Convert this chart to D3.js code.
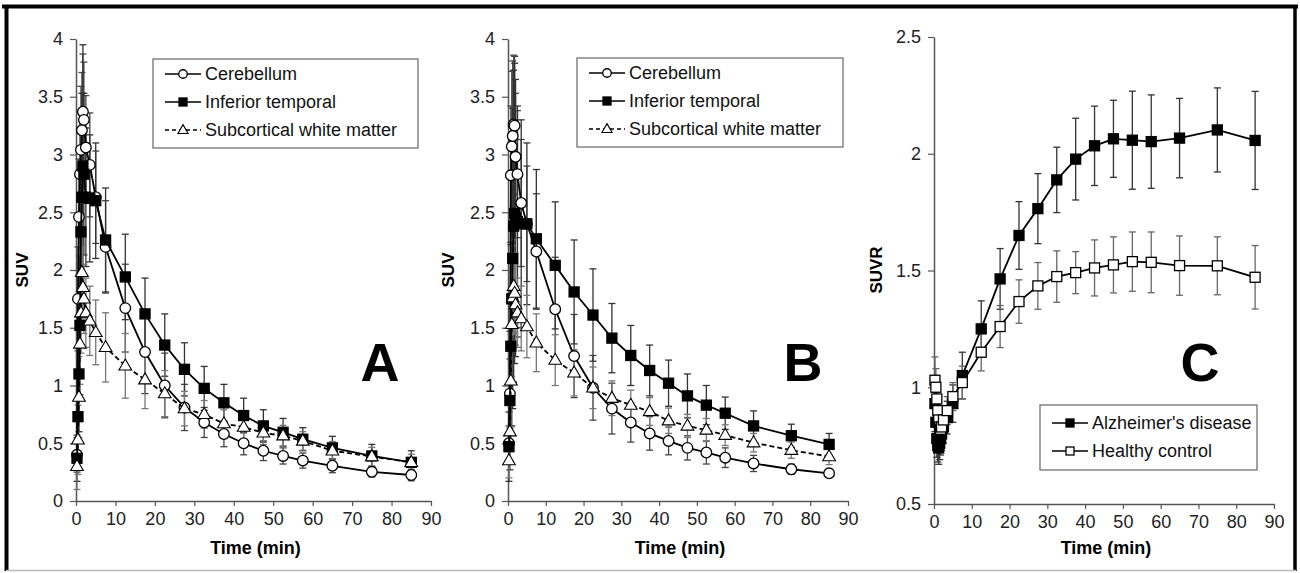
<!DOCTYPE html>
<html>
<head>
<meta charset="utf-8">
<script src="https://cdn.jsdelivr.net/npm/d3@7"></script>
<style>
  body { margin: 0; background: #fff; }
  svg { display: block; font-family: Arial, "Liberation Sans", sans-serif; }
</style>
</head>
<body>
<div id="chart"></div>
<script>
// GLOBAL CONSTANTS
const WIDTH = 1300;
const HEIGHT = 573;

// sampling times (min), shared by all panels
const TIMES = [0.25, 0.5, 0.75, 1, 1.25, 1.5, 1.75, 2, 2.5, 3.5, 5, 7.5, 12.5,
               17.5, 22.5, 27.5, 32.5, 37.5, 42.5, 47.5, 52.5, 57.5, 65, 75, 85];

const X_TICKS = [0, 10, 20, 30, 40, 50, 60, 70, 80, 90];
const SUV_TICKS = [0, 0.5, 1, 1.5, 2, 2.5, 3, 3.5, 4];
const SUVR_TICKS = [0.5, 1, 1.5, 2, 2.5];

// PANEL A - healthy control SUV
const A_CER = [0.40, 1.75, 2.46, 2.83, 3.04, 3.21, 3.37, 3.30, 3.06, 2.91, 2.63, 2.20, 1.67,
               1.29, 1.00, 0.81, 0.68, 0.58, 0.50, 0.435, 0.39, 0.35, 0.305, 0.253, 0.225];
const A_CER_SD = [0.15, 0.45, 0.5, 0.55, 0.55, 0.5, 0.5, 0.5, 0.45, 0.45, 0.4, 0.4, 0.38,
                  0.36, 0.28, 0.2, 0.13, 0.11, 0.1, 0.085, 0.07, 0.065, 0.06, 0.045, 0.05];
const A_IT = [0.37, 0.73, 1.10, 1.52, 2.33, 2.63, 2.90, 2.83, 2.63, 2.62, 2.60, 2.26, 1.94,
              1.62, 1.35, 1.14, 0.975, 0.85, 0.74, 0.65, 0.595, 0.535, 0.46, 0.39, 0.335];
const A_IT_SD = [0.2, 0.4, 0.5, 0.6, 0.7, 0.9, 1.05, 0.7, 0.6, 0.55, 0.5, 0.45, 0.37,
                 0.31, 0.27, 0.23, 0.19, 0.16, 0.15, 0.14, 0.12, 0.1, 0.1, 0.1, 0.1];
const A_WM = [0.30, 0.53, 0.90, 1.36, 1.63, 1.98, 1.85, 1.75, 1.63, 1.56, 1.46, 1.33, 1.17,
              1.05, 0.93, 0.80, 0.75, 0.67, 0.64, 0.59, 0.565, 0.52, 0.435, 0.385, 0.335];
const A_WM_SD = [0.2, 0.3, 0.35, 0.35, 0.35, 0.35, 0.35, 0.3, 0.3, 0.3, 0.28, 0.3, 0.28,
                 0.25, 0.2, 0.15, 0.12, 0.12, 0.11, 0.1, 0.09, 0.08, 0.08, 0.08, 0.07];

// PANEL B - Alzheimer's disease SUV
const B_CER = [0.50, 0.93, 2.82, 3.07, 3.16, 3.26, 3.25, 2.98, 2.83, 2.58, 2.40, 2.16, 1.66,
               1.255, 0.98, 0.80, 0.68, 0.585, 0.52, 0.46, 0.42, 0.375, 0.325, 0.275, 0.24];
const B_CER_SD = [0.15, 0.3, 0.6, 0.65, 0.65, 0.6, 0.6, 0.55, 0.55, 0.55, 0.5, 0.5, 0.45,
                  0.36, 0.28, 0.22, 0.17, 0.145, 0.12, 0.105, 0.1, 0.085, 0.07, 0.045, 0.03];
const B_IT = [0.47, 0.87, 1.34, 1.75, 2.10, 2.38, 2.49, 2.45, 2.42, 2.40, 2.40, 2.27, 2.04,
              1.81, 1.61, 1.41, 1.26, 1.13, 1.02, 0.91, 0.83, 0.76, 0.65, 0.565, 0.49];
const B_IT_SD = [0.3, 0.6, 0.9, 1.1, 1.3, 1.35, 1.3, 1.2, 1.0, 0.9, 0.7, 0.6, 0.55,
                 0.45, 0.4, 0.3, 0.26, 0.22, 0.2, 0.19, 0.17, 0.14, 0.13, 0.1, 0.095];
const B_WM = [0.35, 0.60, 1.04, 1.53, 1.76, 1.86, 1.80, 1.70, 1.63, 1.58, 1.51, 1.37, 1.22,
              1.11, 0.98, 0.89, 0.83, 0.775, 0.695, 0.65, 0.615, 0.57, 0.505, 0.44, 0.385];
const B_WM_SD = [0.15, 0.25, 0.4, 0.45, 0.45, 0.4, 0.35, 0.35, 0.3, 0.28, 0.27, 0.25, 0.22,
                 0.2, 0.18, 0.15, 0.13, 0.12, 0.11, 0.1, 0.1, 0.09, 0.08, 0.07, 0.07];

// PANEL C - SUVR
const C_AD = [0.93, 0.85, 0.78, 0.75, 0.74, 0.76, 0.78, 0.80, 0.83, 0.87, 0.93, 1.05, 1.25,
              1.464, 1.65, 1.765, 1.888, 1.977, 2.034, 2.064, 2.058, 2.052, 2.067, 2.102, 2.057];
const C_AD_SD = [0.12, 0.1, 0.08, 0.07, 0.07, 0.07, 0.07, 0.07, 0.07, 0.07, 0.08, 0.1, 0.12,
                 0.13, 0.145, 0.15, 0.14, 0.175, 0.17, 0.165, 0.21, 0.2, 0.17, 0.18, 0.21];
const C_HC = [1.03, 1.00, 0.95, 0.90, 0.86, 0.83, 0.82, 0.83, 0.86, 0.90, 0.96, 1.02, 1.15,
              1.26, 1.367, 1.434, 1.474, 1.491, 1.511, 1.524, 1.538, 1.535, 1.521, 1.52, 1.471];
const C_HC_SD = [0.1, 0.08, 0.07, 0.06, 0.06, 0.06, 0.06, 0.06, 0.06, 0.06, 0.06, 0.07, 0.08,
                 0.09, 0.093, 0.1, 0.11, 0.09, 0.12, 0.12, 0.127, 0.13, 0.127, 0.124, 0.136];

const SVG = d3.select("#chart")
              .append("svg")
                .attr("width", WIDTH)
                .attr("height", HEIGHT);

// frame round the whole figure
SVG.append("line").attr("x1", 2).attr("x2", 1298).attr("y1", 6.5).attr("y2", 6.5)
   .attr("stroke", "#000").attr("stroke-width", 4);
SVG.append("line").attr("x1", 6.5).attr("x2", 6.5).attr("y1", 5).attr("y2", 571)
   .attr("stroke", "#000").attr("stroke-width", 4);
SVG.append("line").attr("x1", 1295).attr("x2", 1295).attr("y1", 5).attr("y2", 571)
   .attr("stroke", "#000").attr("stroke-width", 3.5);
SVG.append("line").attr("x1", 6).attr("x2", 1296).attr("y1", 570.5).attr("y2", 570.5)
   .attr("stroke", "#bbb").attr("stroke-width", 1.5);

// draws one panel
function drawPanel(p) {
    const X_SCALE = d3.scaleLinear().domain([0, 90]).range([p.left, p.right]);
    const Y_SCALE = d3.scaleLinear().domain(p.yDomain).range([p.bottom, p.top]);

    const g = SVG.append("g");

    // axes
    const xAxis = g.append("g")
        .attr("transform", "translate(0," + p.bottom + ")")
        .call(d3.axisBottom(X_SCALE).tickValues(X_TICKS).tickSize(5).tickSizeOuter(0).tickPadding(6));
    const yAxis = g.append("g")
        .attr("transform", "translate(" + p.left + ",0)")
        .call(d3.axisLeft(Y_SCALE).tickValues(p.yTicks).tickSize(6).tickSizeOuter(0).tickPadding(7)
              .tickFormat(d3.format("")));
    [xAxis, yAxis].forEach((a) => {
        a.select(".domain").attr("stroke", "#555").attr("stroke-width", 1.5);
        a.selectAll(".tick line").attr("stroke", "#555").attr("stroke-width", 1.2);
        a.selectAll("text").attr("font-size", "18px").attr("fill", "#222")
         .attr("font-family", "Arial, 'Liberation Sans', sans-serif");
    });

    // axis titles
    g.append("text")
        .attr("x", (p.left + p.right) / 2 + 2)
        .attr("y", 554)
        .attr("text-anchor", "middle")
        .attr("font-weight", "bold")
        .attr("font-size", "18px")
        .text("Time (min)");
    g.append("text")
        .attr("transform", "translate(" + p.yTitleX + ",270) rotate(-90)")
        .attr("text-anchor", "middle")
        .attr("font-weight", "bold")
        .attr("font-size", "17px")
        .text(p.yTitle);

    // panel letter
    g.append("text")
        .attr("x", p.letterX)
        .attr("y", 381)
        .attr("text-anchor", "middle")
        .attr("font-weight", "bold")
        .attr("font-size", "54px")
        .text(p.letter);

    const line = d3.line()
        .x((d) => X_SCALE(d.t))
        .y((d) => Y_SCALE(d.v));

    // error bars first
    p.series.forEach((s) => {
        const pts = TIMES.map((t, i) => ({t: t, v: s.values[i], sd: s.sd[i]}));
        const eb = g.append("g").attr("stroke", s.errColor).attr("stroke-width", 1.3);
        pts.forEach((d) => {
            const x = X_SCALE(d.t);
            const y1 = Y_SCALE(Math.max(d.v - d.sd, p.yDomain[0]));
            const y2 = Y_SCALE(d.v + d.sd);
            eb.append("line").attr("x1", x).attr("x2", x).attr("y1", y1).attr("y2", y2);
            eb.append("line").attr("x1", x - 3.5).attr("x2", x + 3.5).attr("y1", y2).attr("y2", y2);
            if (d.v - d.sd > p.yDomain[0]) {
                eb.append("line").attr("x1", x - 3.5).attr("x2", x + 3.5).attr("y1", y1).attr("y2", y1);
            }
        });
    });

    // lines and markers
    p.series.forEach((s) => {
        const pts = TIMES.map((t, i) => ({t: t, v: s.values[i]}));
        g.append("path")
            .datum(pts)
            .attr("d", line)
            .attr("fill", "none")
            .attr("stroke", "#000")
            .attr("stroke-width", 1.8)
            .attr("stroke-dasharray", s.dash ? "5,3" : null);
        drawMarkers(g, pts, s, X_SCALE, Y_SCALE);
    });

    // legend
    const lg = g.append("g").attr("transform", "translate(" + p.legend.x + "," + p.legend.y + ")");
    lg.append("rect")
        .attr("width", p.legend.w)
        .attr("height", p.legend.h)
        .attr("fill", "#fff")
        .attr("stroke", "#666")
        .attr("stroke-width", 1.2);
    p.series.forEach((s, i) => {
        const yy = p.legend.pad + i * p.legend.step;
        lg.append("line")
            .attr("x1", 12).attr("x2", 48).attr("y1", yy).attr("y2", yy)
            .attr("stroke", "#000").attr("stroke-width", 1.6)
            .attr("stroke-dasharray", s.dash ? "4,3" : null);
        drawMarkers(lg, [{t: 0, v: 0}], s, () => 30, () => yy, 0.8);
        lg.append("text")
            .attr("x", 52)
            .attr("y", yy + 6)
            .attr("font-size", "18px")
            .attr("fill", "#111")
            .text(s.name);
    });
}

function drawMarkers(g, pts, s, xs, ys, k) {
    k = k || 1;
    if (s.shape === "circle") {
        g.selectAll(null).data(pts).enter().append("circle")
            .attr("cx", (d) => xs(d.t)).attr("cy", (d) => ys(d.v))
            .attr("r", 5.3 * k)
            .attr("fill", s.fill).attr("stroke", "#000").attr("stroke-width", 1.3);
    } else if (s.shape === "square") {
        const h = 5 * k;
        g.selectAll(null).data(pts).enter().append("rect")
            .attr("x", (d) => xs(d.t) - h).attr("y", (d) => ys(d.v) - h)
            .attr("width", 2 * h).attr("height", 2 * h)
            .attr("fill", s.fill).attr("stroke", "#000").attr("stroke-width", 1.3);
    } else {
        const tri = d3.symbol().type(d3.symbolTriangle).size(70 * k * k);
        g.selectAll(null).data(pts).enter().append("path")
            .attr("d", tri)
            .attr("transform", (d) => "translate(" + xs(d.t) + "," + (ys(d.v) + 0.5) + ")")
            .attr("fill", s.fill).attr("stroke", "#000").attr("stroke-width", 1.1);
    }
}

const SUV_SERIES = (cer, cerSd, it, itSd, wm, wmSd) => [
    {name: "Cerebellum", values: cer, sd: cerSd, shape: "circle", fill: "#fff", dash: false, errColor: "#444"},
    {name: "Inferior temporal", values: it, sd: itSd, shape: "square", fill: "#000", dash: false, errColor: "#333"},
    {name: "Subcortical white matter", values: wm, sd: wmSd, shape: "triangle", fill: "#fff", dash: true, errColor: "#777"}
];

drawPanel({
    left: 76, right: 431, top: 39, bottom: 501,
    yDomain: [0, 4], yTicks: SUV_TICKS, yTitle: "SUV", yTitleX: 28,
    letter: "A", letterX: 380,
    legend: {x: 153, y: 59, w: 265, h: 89, pad: 15, step: 28},
    series: SUV_SERIES(A_CER, A_CER_SD, A_IT, A_IT_SD, A_WM, A_WM_SD)
});

drawPanel({
    left: 508, right: 848, top: 39, bottom: 501,
    yDomain: [0, 4], yTicks: SUV_TICKS, yTitle: "SUV", yTitleX: 454,
    letter: "B", letterX: 803,
    legend: {x: 577, y: 58, w: 266, h: 89, pad: 15, step: 28},
    series: SUV_SERIES(B_CER, B_CER_SD, B_IT, B_IT_SD, B_WM, B_WM_SD)
});

drawPanel({
    left: 934, right: 1274, top: 37, bottom: 504,
    yDomain: [0.5, 2.5], yTicks: SUVR_TICKS, yTitle: "SUVR", yTitleX: 882,
    letter: "C", letterX: 1200,
    legend: {x: 1040, y: 405, w: 217, h: 65, pad: 18, step: 28},
    series: [
        {name: "Alzheimer's disease", values: C_AD, sd: C_AD_SD, shape: "square", fill: "#000", dash: false, errColor: "#333"},
        {name: "Healthy control", values: C_HC, sd: C_HC_SD, shape: "square", fill: "#fff", dash: false, errColor: "#666"}
    ]
});
</script>
</body>
</html>
